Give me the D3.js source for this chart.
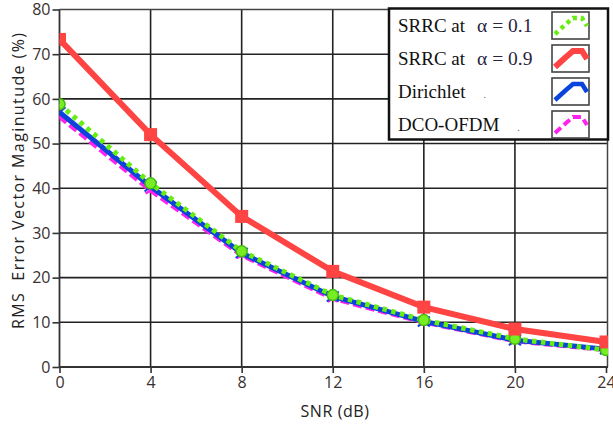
<!DOCTYPE html>
<html><head><meta charset="utf-8">
<script src="https://cdn.jsdelivr.net/npm/d3@7"></script>
<style>body{margin:0;background:#fff;} svg{display:block;}</style>
</head><body>
<svg id="c" width="613" height="426"></svg>
<script>
const snr = [0, 4, 8, 12, 16, 20, 24];
const srrc01 = [58.8, 41.1, 25.9, 16.1, 10.5, 6.3, 3.8];
const srrc09 = [73.3, 52.0, 33.7, 21.4, 13.4, 8.5, 5.6];
const dirichlet = [57.0, 40.4, 25.5, 15.8, 10.2, 6.0, 4.0];
const dcoofdm = [56.0, 39.5, 25.0, 15.3, 10.0, 5.8, 3.8];
const xTicks = [0, 4, 8, 12, 16, 20, 24];
const yTicks = [0, 10, 20, 30, 40, 50, 60, 70, 80];
const legendNames = ["SRRC at", "SRRC at", "Dirichlet", "DCO-OFDM"];
const legendAlpha = ["α = 0.1", "α = 0.9", ".", "."];

const svg = d3.select("#c");
const x = d3.scaleLinear().domain([0, 24]).range([59.5, 606]);
const y = d3.scaleLinear().domain([0, 80]).range([367, 9.5]);
const tickFont = "'Open Sans', 'Noto Sans', sans-serif";

// grid
const g = svg.append("g");
g.selectAll(".gx").data(xTicks.slice(1, -1)).enter().append("line")
  .attr("x1", d => x(d)).attr("x2", d => x(d)).attr("y1", y(80)).attr("y2", y(0))
  .attr("stroke", "#222").attr("stroke-width", 1.6);
g.selectAll(".gy").data(yTicks.slice(1, -1)).enter().append("line")
  .attr("x1", x(0)).attr("x2", 608).attr("y1", d => y(d)).attr("y2", d => y(d))
  .attr("stroke", "#222").attr("stroke-width", 1.6);
// frame
svg.append("line").attr("x1", 59.5).attr("x2", 608).attr("y1", y(80)).attr("y2", y(80)).attr("stroke", "#444").attr("stroke-width", 1.5);
svg.append("line").attr("x1", 607.5).attr("x2", 607.5).attr("y1", y(80)).attr("y2", y(0)).attr("stroke", "#444").attr("stroke-width", 1.5);

// axes
const xAxis = svg.append("g").attr("transform", `translate(0,${y(0)})`)
  .call(d3.axisBottom(x).tickValues(xTicks).tickSize(6).tickPadding(4).tickFormat(d3.format("d")));
const yAxis = svg.append("g").attr("transform", `translate(${x(0)},0)`)
  .call(d3.axisLeft(y).tickValues(yTicks).tickSize(7).tickPadding(2).tickFormat(d3.format("d")));
[xAxis, yAxis].forEach(a => {
  a.select(".domain").attr("stroke", "#333").attr("stroke-width", 1.8);
  a.selectAll(".tick line").attr("stroke", "#333").attr("stroke-width", 1.6);
  a.selectAll("text").attr("fill", "#3a3030").style("font-family", tickFont).style("font-size", "16px");
});
xAxis.select(".domain").attr("d", `M${x(0)},0H608`);
yAxis.select(".domain").attr("d", `M0,${y(0)}V${y(80)}`);

svg.append("text").attr("x", 335).attr("y", 417).attr("text-anchor", "middle")
  .style("font-family", tickFont).style("font-size", "16px").style("letter-spacing", "0.6px")
  .attr("fill", "#222").text("SNR (dB)");
svg.append("text").attr("transform", "translate(24,181) rotate(-90)").attr("text-anchor", "middle")
  .style("font-family", tickFont).style("font-size", "16px").attr("fill", "#222")
  .attr("textLength", 296).attr("lengthAdjust", "spacing")
  .attr("xml:space", "preserve").text("RMS  Error Vector Maginutude (%)");

const line = d3.line().x((d, i) => x(snr[i])).y(d => y(d));
svg.append("clipPath").attr("id", "pc").append("rect")
  .attr("x", x(0)).attr("y", y(80) - 2).attr("width", 608 - x(0)).attr("height", y(0) - y(80) + 2);
const plot = svg.append("g").attr("clip-path", "url(#pc)");

// magenta dashed
plot.append("path").datum(dcoofdm).attr("d", line).attr("fill", "none")
  .attr("stroke", "#ff22ee").attr("stroke-width", 4.5).attr("stroke-dasharray", "9,4");
plot.selectAll(".mm").data(dcoofdm).enter().append("path")
  .attr("transform", (d, i) => `translate(${x(snr[i])},${y(d)})`)
  .attr("d", "M-5,-3L5,3M-5,3L5,-3").attr("stroke", "#ff22ee").attr("stroke-width", 2.5);
// blue solid
plot.append("path").datum(dirichlet).attr("d", line).attr("fill", "none")
  .attr("stroke", "#0a44dd").attr("stroke-width", 5);
plot.selectAll(".bm").data(dirichlet).enter().append("path")
  .attr("transform", (d, i) => `translate(${x(snr[i])},${y(d)})`)
  .attr("d", "M-6,-5L6,5M-6,5L6,-5").attr("stroke", "#0a44dd").attr("stroke-width", 2);
// green dotted
plot.append("path").datum(srrc01).attr("d", line).attr("fill", "none")
  .attr("stroke", "#66ee11").attr("stroke-width", 5).attr("stroke-dasharray", "4.5,4.5");
plot.selectAll(".gm").data(srrc01).enter().append("circle")
  .attr("cx", (d, i) => x(snr[i])).attr("cy", d => y(d)).attr("r", 5.5)
  .attr("fill", "#77ee22").attr("stroke", "#44bb11").attr("stroke-width", 1.5);
// red solid
plot.append("path").datum(srrc09).attr("d", line).attr("fill", "none")
  .attr("stroke", "#ff4444").attr("stroke-width", 6);
plot.selectAll(".rm").data(srrc09).enter().append("rect")
  .attr("x", (d, i) => x(snr[i]) - 6.5).attr("y", d => y(d) - 6.5)
  .attr("width", 13).attr("height", 13).attr("fill", "#ff4444");

// legend
const lg = svg.append("g");
lg.append("rect").attr("x", 389).attr("y", 8.5).attr("width", 219).attr("height", 131)
  .attr("fill", "#fff").attr("stroke", "#111").attr("stroke-width", 2.5);
const rowsTop = [12, 45, 78, 111];
const swStyles = [
  {c: "#66ee11", w: 4.5, dash: "4,4"},
  {c: "#ff4444", w: 6, dash: null},
  {c: "#0a44dd", w: 4.5, dash: null},
  {c: "#ff22ee", w: 4, dash: "8,4"}
];
rowsTop.forEach((t, i) => {
  lg.append("rect").attr("x", 552).attr("y", t).attr("width", 37).attr("height", 27)
    .attr("fill", "#fff").attr("stroke", "#444").attr("stroke-width", 1.6);
  const p = lg.append("path")
    .attr("d", `M555,${t + 22} L566,${t + 12} L573,${t + 6} L582,${t + 6} L587,${t + 14}`)
    .attr("fill", "none").attr("stroke", swStyles[i].c).attr("stroke-width", swStyles[i].w);
  if (swStyles[i].dash) p.attr("stroke-dasharray", swStyles[i].dash);
  const tx = lg.append("text").attr("x", 398).attr("y", t + 20)
    .style("font-family", "'Liberation Serif', 'Times New Roman', serif").style("font-size", "19px")
    .attr("fill", "#111");
  tx.append("tspan").text(legendNames[i]);
  tx.append("tspan").attr("dx", i < 2 ? 12 : 18).attr("fill", i < 2 ? "#2a2440" : "#555")
    .style("font-size", i < 2 ? "19.5px" : "10px").text(legendAlpha[i]);
});
</script>
</body></html>
